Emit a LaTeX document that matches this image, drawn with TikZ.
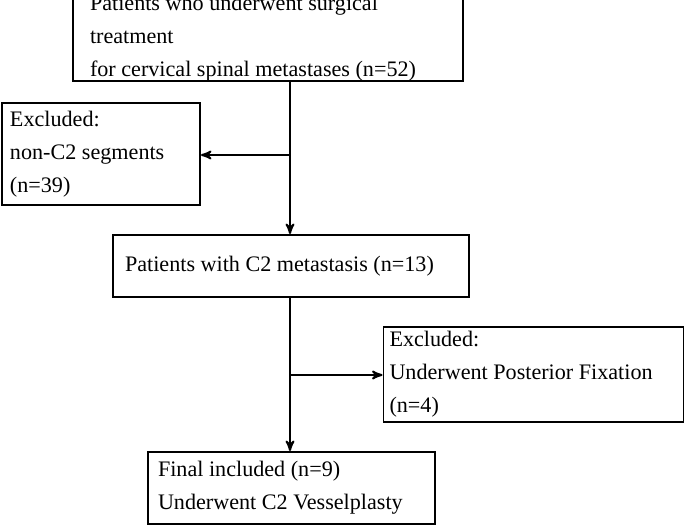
\documentclass[tikz,border=0pt]{standalone}
\usepackage{fontspec}
\setmainfont{Liberation Serif}
\usetikzlibrary{arrows}

\begin{document}
\begin{tikzpicture}[x=0.02cm,y=-0.02cm,>=stealth',thick]
    \tikzstyle{box}=[draw, rectangle, line width=1.1pt, inner sep=0pt, align=flush left, font=\fontsize{12.6}{18.7}\selectfont]
    \tikzstyle{link}=[->, line width=1.1pt]
    \useasboundingbox (0,0) rectangle (685,526);

    \node[box, minimum width=390*0.02cm, minimum height=73*0.02cm, text width=356*0.02cm] (all) at (268,38.5)
      {Patients who underwent surgical treatment\\for cervical spinal metastases (n=52)};
    \node[box, minimum width=198*0.02cm, minimum height=102*0.02cm, text width=182*0.02cm] (exa) at (101,154)
      {Excluded:\\non-C2 segments\\(n=39)};
    \node[box, minimum width=356*0.02cm, minimum height=62*0.02cm, text width=332*0.02cm] (ctwo) at (291,266)
      {Patients with C2 metastasis (n=13)};
    \node[box, minimum width=300*0.02cm, minimum height=95*0.02cm, text width=288*0.02cm] (exb) at (533.5,374.5)
      {Excluded:\\Underwent Posterior Fixation\\(n=4)};
    \node[box, minimum width=287*0.02cm, minimum height=72*0.02cm, text width=267*0.02cm] (fin) at (291.5,488)
      {Final included (n=9)\\Underwent C2 Vesselplasty};

    \coordinate (ja) at (290,155);
    \coordinate (jb) at (290,375);
    \draw[link] (all.south -| ja) -- (ctwo.north -| ja);
    \draw[link] (ja) -- (exa.east |- ja);
    \draw[link] (ctwo.south -| jb) -- (fin.north -| jb);
    \draw[link] (jb) -- (exb.west |- jb);
  \end{tikzpicture}
\end{document}
